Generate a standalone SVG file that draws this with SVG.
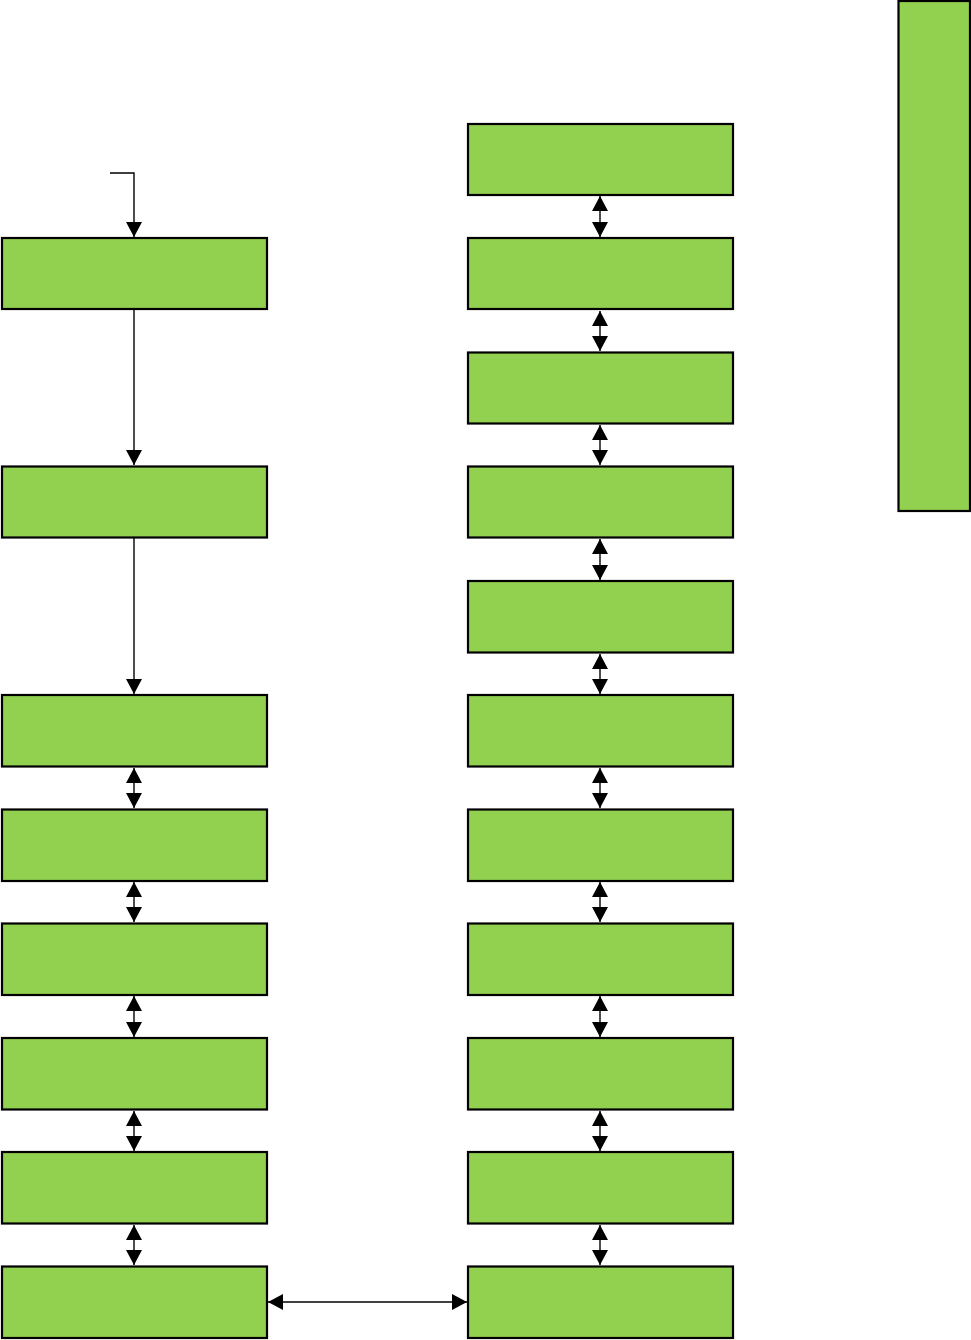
<svg xmlns="http://www.w3.org/2000/svg" width="971" height="1340" viewBox="0 0 971 1340">
<style>
.box{fill:#92D050;stroke:#000;stroke-width:2.2}
.c{fill:none;stroke:#000;stroke-width:1.4}
</style>
<defs>
<marker id="ah" markerUnits="userSpaceOnUse" markerWidth="18" markerHeight="18" viewBox="0 0 18 18" refX="15" refY="9" orient="auto-start-reverse">
<path d="M0,1 L15,9 L0,17 Z" fill="#000"/>
</marker>
</defs>
<rect width="971" height="1340" fill="#fff"/>
<g id="connectors">
<path class="c" d="M110,173 H134 V237" marker-end="url(#ah)"/>
<path class="c" d="M134,309 V465" marker-end="url(#ah)"/>
<path class="c" d="M134,538 V694" marker-end="url(#ah)"/>
<path class="c" d="M134,768 V808" marker-start="url(#ah)" marker-end="url(#ah)"/>
<path class="c" d="M134,882 V922" marker-start="url(#ah)" marker-end="url(#ah)"/>
<path class="c" d="M134,996 V1037" marker-start="url(#ah)" marker-end="url(#ah)"/>
<path class="c" d="M134,1111 V1151" marker-start="url(#ah)" marker-end="url(#ah)"/>
<path class="c" d="M134,1225 V1265" marker-start="url(#ah)" marker-end="url(#ah)"/>
<path class="c" d="M600,196 V237" marker-start="url(#ah)" marker-end="url(#ah)"/>
<path class="c" d="M600,311 V351" marker-start="url(#ah)" marker-end="url(#ah)"/>
<path class="c" d="M600,425 V465" marker-start="url(#ah)" marker-end="url(#ah)"/>
<path class="c" d="M600,539 V580" marker-start="url(#ah)" marker-end="url(#ah)"/>
<path class="c" d="M600,654 V694" marker-start="url(#ah)" marker-end="url(#ah)"/>
<path class="c" d="M600,768 V808" marker-start="url(#ah)" marker-end="url(#ah)"/>
<path class="c" d="M600,882 V922" marker-start="url(#ah)" marker-end="url(#ah)"/>
<path class="c" d="M600,996 V1037" marker-start="url(#ah)" marker-end="url(#ah)"/>
<path class="c" d="M600,1111 V1151" marker-start="url(#ah)" marker-end="url(#ah)"/>
<path class="c" d="M600,1225 V1265" marker-start="url(#ah)" marker-end="url(#ah)"/>
<path class="c" d="M268,1302 H467" marker-start="url(#ah)" marker-end="url(#ah)"/>
</g>
<g id="L1"><rect class="box" x="2" y="238" width="265" height="71"/></g>
<g id="L2"><rect class="box" x="2" y="466.5" width="265" height="71"/></g>
<g id="L3"><rect class="box" x="2" y="695" width="265" height="71.5"/></g>
<g id="L4"><rect class="box" x="2" y="809.5" width="265" height="71.5"/></g>
<g id="L5"><rect class="box" x="2" y="923.5" width="265" height="71.5"/></g>
<g id="L6"><rect class="box" x="2" y="1038" width="265" height="71.5"/></g>
<g id="L7"><rect class="box" x="2" y="1152" width="265" height="71.5"/></g>
<g id="L8"><rect class="box" x="2" y="1266.5" width="265" height="71.5"/></g>
<g id="R1"><rect class="box" x="468" y="124" width="265" height="71"/></g>
<g id="R2"><rect class="box" x="468" y="238" width="265" height="71"/></g>
<g id="R3"><rect class="box" x="468" y="352.5" width="265" height="71"/></g>
<g id="R4"><rect class="box" x="468" y="466.5" width="265" height="71"/></g>
<g id="R5"><rect class="box" x="468" y="581" width="265" height="71.5"/></g>
<g id="R6"><rect class="box" x="468" y="695" width="265" height="71.5"/></g>
<g id="R7"><rect class="box" x="468" y="809.5" width="265" height="71.5"/></g>
<g id="R8"><rect class="box" x="468" y="923.5" width="265" height="71.5"/></g>
<g id="R9"><rect class="box" x="468" y="1038" width="265" height="71.5"/></g>
<g id="R10"><rect class="box" x="468" y="1152" width="265" height="71.5"/></g>
<g id="R11"><rect class="box" x="468" y="1266.5" width="265" height="71.5"/></g>
<g id="side"><rect class="box" x="898.5" y="1" width="71.5" height="510"/></g>
</svg>
